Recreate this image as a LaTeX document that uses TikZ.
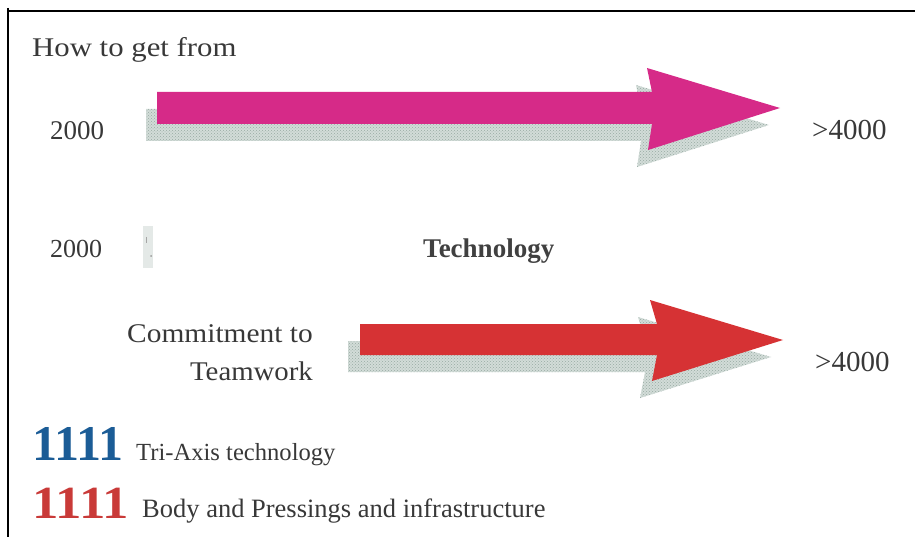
\documentclass[tikz,border=0pt]{standalone}
\usepackage{fontspec}
\usepackage{graphicx}
\setmainfont{Liberation Serif}
\usetikzlibrary{patterns}
\definecolor{txt}{HTML}{383838}
\definecolor{techtxt}{HTML}{404040}
\definecolor{magentaarrow}{RGB}{214,42,136}
\definecolor{redarrow}{RGB}{214,50,52}
\definecolor{shadowfill}{HTML}{D2DCD8}
\definecolor{shadowdots}{HTML}{98AAA3}
\definecolor{bluenum}{HTML}{1B5C96}
\definecolor{rednum}{HTML}{C93A38}
\definecolor{graybox}{HTML}{E4E9E7}
\tikzset{
  lbl/.style={anchor=base west, inner sep=0pt, text=txt},
  rlbl/.style={anchor=base east, inner sep=0pt, text=txt},
  shadowshape/.style={fill=shadowfill, draw=none},
  shadowdotted/.style={pattern=crosshatch dots, pattern color=shadowdots},
  frameline/.style={line width=2pt, black}
}
\begin{document}
\begin{tikzpicture}[x=1pt,y=-1pt]
\useasboundingbox (0,0) rectangle (915,537);
% frame
\draw[frameline] (8,8) -- (8,537);
\draw[frameline] (7,11) -- (915,11);
% top arrow shadow
\begin{scope}[shift={(-11,17)}]
\path[shadowshape] (157,92) -- (652,92) -- (647,68) -- (780,108) -- (648,150) -- (652,124) -- (157,124) -- cycle;
\path[shadowdotted] (157,92) -- (652,92) -- (647,68) -- (780,108) -- (648,150) -- (652,124) -- (157,124) -- cycle;
\end{scope}
% top arrow
\path[fill=magentaarrow] (157,92) -- (652,92) -- (647,68) -- (780,108) -- (648,150) -- (652,124) -- (157,124) -- cycle;
% bottom arrow shadow
\begin{scope}[shift={(-12,17)}]
\path[shadowshape] (360,324) -- (657,324) -- (650,300) -- (783,340) -- (652,381) -- (657,355) -- (360,355) -- cycle;
\path[shadowdotted] (360,324) -- (657,324) -- (650,300) -- (783,340) -- (652,381) -- (657,355) -- (360,355) -- cycle;
\end{scope}
% bottom arrow
\path[fill=redarrow] (360,324) -- (657,324) -- (650,300) -- (783,340) -- (652,381) -- (657,355) -- (360,355) -- cycle;
% small gray box
\fill[graybox] (143,226) rectangle (153,268);
\draw[gray!70, line width=1pt] (146,237) -- (146,243);
\fill[gray!80] (151,256) circle (1pt);
% texts
\node[lbl] (how) at (32,57) {\fontsize{27}{30}\selectfont\scalebox{1.14}[1]{How to get from}};
\node[lbl] (y2000a) at (50,140) {\fontsize{27}{30}\selectfont 2000};
\node[lbl] (gt4000a) at (812,140) {\fontsize{29}{30}\selectfont >4000};
\node[lbl] (y2000b) at (50,258) {\fontsize{26}{30}\selectfont 2000};
\node[lbl, text=techtxt] (tech) at (423,258) {\fontsize{27}{30}\selectfont\bfseries Technology};
\node[rlbl] (commit) at (313,342) {\fontsize{27}{30}\selectfont\scalebox{1.09}[1]{Commitment to}};
\node[rlbl] (team) at (313,380) {\fontsize{27}{30}\selectfont\scalebox{1.066}[1]{Teamwork}};
\node[lbl] (gt4000b) at (815,371) {\fontsize{29}{30}\selectfont >4000};
\node[lbl, text=bluenum] (num1) at (32,460) {\fontsize{50}{54}\selectfont\bfseries 1111};
\node[lbl] (tri) at (136,460) {\fontsize{24.6}{28}\selectfont Tri-Axis technology};
\node[lbl, text=rednum] (num2) at (32,518) {\fontsize{46}{50}\selectfont\bfseries\scalebox{1.146}[1]{1111}};
\node[lbl] (body) at (142,517) {\fontsize{26.5}{30}\selectfont Body and Pressings and infrastructure};
\end{tikzpicture}
\end{document}
